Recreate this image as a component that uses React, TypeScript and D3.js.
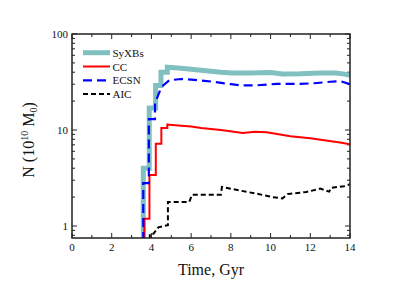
import React from "react";
import * as d3 from "d3";

// time (Gyr) / N (10^10 Msun) pairs
const syxbTime = [3.59, 3.59, 3.89, 3.89, 4.21, 4.21, 4.48, 4.48, 4.8, 4.8, 5.5, 6.5, 7.5, 8.1, 9, 10, 10.6, 11.5, 12.5, 13.3, 13.8, 14];
const syxbVals = [0.5, 4.0, 4.0, 17, 17, 29, 29, 40, 40, 45, 44, 42, 40, 39.3, 39.3, 39.7, 38.3, 38.5, 39.3, 39.2, 38, 37.2];

const ccTime = [3.64, 3.64, 3.9, 3.9, 4.22, 4.22, 4.5, 4.5, 4.8, 4.8, 5.2, 6, 6.5, 7.5, 8.6, 9.2, 9.8, 11, 12, 12.7, 13.5, 14];
const ccVals = [0.5, 1.19, 1.19, 3.4, 3.4, 7.2, 7.2, 10.5, 10.5, 11.4, 11.2, 10.9, 10.5, 10, 9.3, 9.6, 9.5, 8.6, 8.2, 7.8, 7.4, 7.1];

const ecsnTime = [3.59, 3.59, 3.87, 3.87, 4.18, 4.18, 4.5, 4.9, 5.5, 6, 7, 8, 8.5, 9.3, 10.3, 11.5, 12.2, 13, 13.5, 14];
const ecsnVals = [0.5, 2.8, 2.8, 13, 13, 19, 28, 33, 34, 33.5, 32, 30, 29.2, 29.2, 30.2, 30.2, 30.7, 31.8, 32.3, 30];

const aicTime = [3.92, 3.92, 4.1, 4.35, 4.83, 4.83, 5.9, 6.05, 7.5, 7.55, 8.5, 9.3, 10.1, 10.6, 10.85, 11.8, 12.5, 12.95, 13.05, 13.7, 14];
const aicVals = [0.6, 0.83, 0.83, 0.97, 1.02, 1.78, 1.78, 2.12, 2.12, 2.55, 2.33, 2.17, 2.0, 1.94, 2.15, 2.26, 2.45, 2.28, 2.5, 2.6, 2.72];

const xTicks = d3.range(0, 15, 1);
const xLabels = [0, 2, 4, 6, 8, 10, 12, 14];
const yTicks = [0.8, 0.9, 1, 2, 3, 4, 5, 6, 7, 8, 9, 10, 20, 30, 40, 50, 60, 70, 80, 90, 100];
const yLabels = [1, 10, 100];

const W = 407;
const H = 285;
const margin = { top: 34, right: 57, bottom: 47, left: 72 };

const series = [
  { name: "SyXBs", t: syxbTime, v: syxbVals, color: "#80c0c0", width: 5, dash: "" },
  { name: "CC", t: ccTime, v: ccVals, color: "#ff0000", width: 2, dash: "" },
  { name: "ECSN", t: ecsnTime, v: ecsnVals, color: "#0000ff", width: 2.2, dash: "9,5" },
  { name: "AIC", t: aicTime, v: aicVals, color: "#000000", width: 2, dash: "5,3" },
];

const App = () => {
  const x = d3.scaleLinear().domain([0, 14]).range([margin.left, W - margin.right]);
  const y = d3.scaleLog().domain([0.75, 100]).range([H - margin.bottom, margin.top]);
  const x0 = x(0), x1 = x(14), y0 = y(0.75), y1 = y(100);
  const font = "Liberation Serif";
  const axisColor = "#222";

  const makePath = (t: number[], v: number[]) =>
    d3.line<number>()
      .x((_, i) => x(t[i]))
      .y((_, i) => y(v[i]))(t) || "";

  const isMajorY = (d: number) => yLabels.includes(d);

  return (
    <svg width={W} height={H} style={{ position: "absolute", left: 0, top: 0, background: "#fff" }}>
      <defs>
        <clipPath id="plot">
          <rect x={x0} y={y1} width={x1 - x0} height={y0 - y1} />
        </clipPath>
      </defs>

      {/* ticks, pointing inward on all four sides */}
      <g stroke={axisColor} strokeWidth={1}>
        {xTicks.map((d) => {
          const len = d % 2 === 0 ? 5 : 3;
          return (
            <g key={"x" + d}>
              <line x1={x(d)} x2={x(d)} y1={y0} y2={y0 - len} />
              <line x1={x(d)} x2={x(d)} y1={y1} y2={y1 + len} />
            </g>
          );
        })}
        {yTicks.map((d) => {
          const len = isMajorY(d) ? 5 : 3;
          return (
            <g key={"y" + d}>
              <line x1={x0} x2={x0 + len} y1={y(d)} y2={y(d)} />
              <line x1={x1} x2={x1 - len} y1={y(d)} y2={y(d)} />
            </g>
          );
        })}
      </g>

      {/* data */}
      <g clipPath="url(#plot)" fill="none">
        {series.map((s) => (
          <path
            key={s.name}
            d={makePath(s.t, s.v)}
            stroke={s.color}
            strokeWidth={s.width}
            strokeDasharray={s.dash || undefined}
          />
        ))}
      </g>

      {/* frame */}
      <rect x={x0} y={y1} width={x1 - x0} height={y0 - y1} fill="none" stroke={axisColor} strokeWidth={1.5} />

      {/* tick labels */}
      <g fontFamily={font} fontSize={11} fill="#111">
        {xLabels.map((d) => (
          <text key={"xl" + d} x={x(d)} y={y0 + 13} textAnchor="middle">{d}</text>
        ))}
        {yLabels.map((d) => (
          <text key={"yl" + d} x={x0 - 4} y={y(d) + 4} textAnchor="end">{d}</text>
        ))}
      </g>

      {/* axis titles */}
      <text x={(x0 + x1) / 2} y={275} textAnchor="middle" fontFamily={font} fontSize={16} fill="#111">
        Time, Gyr
      </text>
      <text
        transform={`translate(34, 140) rotate(-90)`}
        textAnchor="middle"
        fontFamily={font}
        fontSize={16}
        fill="#111"
      >
        N (10<tspan fontSize={10} dy={-6}>10</tspan><tspan dy={6}> M</tspan><tspan fontSize={10} dy={3}>0</tspan><tspan dy={-3}>)</tspan>
      </text>

      {/* legend */}
      <g fontFamily={font} fontSize={11} fill="#111">
        {series.map((s, i) => {
          const ly = 52.7 + i * 13.8;
          return (
            <g key={"lg" + s.name}>
              <line x1={83} x2={110} y1={ly} y2={ly} stroke={s.color} strokeWidth={s.width} strokeDasharray={s.dash || undefined} />
              <text x={112.5} y={ly + 4}>{s.name}</text>
            </g>
          );
        })}
      </g>
    </svg>
  );
};

export default App;
